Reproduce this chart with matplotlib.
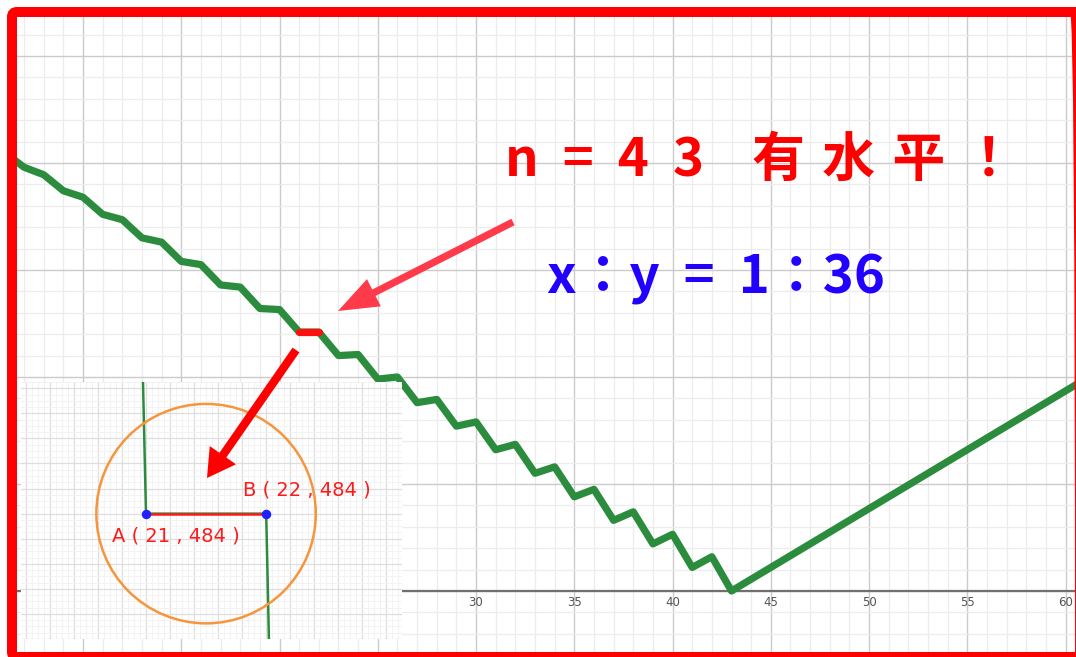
import matplotlib.pyplot as plt
from matplotlib.patches import FancyBboxPatch
from matplotlib.text import Annotation
from matplotlib.transforms import IdentityTransform
import numpy as np

plt.rcParams['font.family'] = ['Noto Sans CJK JP', 'DejaVu Sans']

# Значення (вершини ламаної в цілих n)
n_vals = list(range(6, 44)) + [61]
f_vals = [820, 792, 778, 748, 736, 704, 694, 660, 652, 616,
          610, 572, 568, 528, 526, 484, 484, 440, 442, 396,
          400, 352, 358, 308, 316, 264, 274, 220, 232, 176,
          190, 132, 148, 88, 106, 44, 64, 0, 396]
flat_n = [21, 22]          # горизонтальний відрізок A-B
flat_level = 484
x_tick_labels = [10, 15, 20, 25, 30, 35, 40, 45, 50, 55, 60]
title_text = "n  =  4  3    有\u2004水\u2004平\u2004！"
ratio_text = "x：y  =  1：36"

W, H = 1076, 657
GREEN = '#2b8c3d'


def px_rect(x, y, w, h):
    # прямокутник у пікселях картинки (початок зверху зліва)
    return [x / W, 1 - (y + h) / H, w / W, h / H]


fig = plt.figure(figsize=(W / 100, H / 100), dpi=100)
fig.patch.set_facecolor('white')

# --- основний графік ---
ax = fig.add_axes(px_rect(10, 10, 1066, 647))
ax.set_xticks(range(5, 65, 5))
ax.set_xticks([v for v in range(6, 61) if v % 5], minor=True)
ax.set_yticks(range(0, 1201, 200))
ax.set_yticks([v for v in range(-120, 1100, 40) if v % 200], minor=True)
# межі ставимо після тиків, інакше set_xticks їх розширює
ax.set_xlim(6.285, 60.53)
ax.set_ylim(-123.4, 1085.9)
ax.grid(which='major', color='#cbcbcb', lw=1.0)
ax.grid(which='minor', color='#ececec', lw=0.9)
ax.tick_params(which='both', length=0, labelbottom=False, labelleft=False)
for s in ax.spines.values():
    s.set_visible(False)
ax.axhline(0, color='#707070', lw=1.6, zorder=2)

for t in x_tick_labels:
    ax.annotate(str(t), (t, 0), xytext=(0, -8), textcoords='offset points',
                ha='center', va='center', fontsize=8.5, color='#555555',
                family='DejaVu Sans')

ax.plot(n_vals, f_vals, color=GREEN, lw=5.2,
        solid_joinstyle='round', solid_capstyle='round', zorder=3)
i = n_vals.index(flat_n[0])
ax.plot(n_vals[i:i + 2], f_vals[i:i + 2], color='#ff1010', lw=5.2,
        solid_capstyle='round', zorder=4)

# --- збільшений фрагмент ---
ax_in = fig.add_axes(px_rect(21, 382, 381, 257))
ax_in.set_zorder(2)
ax_in.set_facecolor('white')
ax_in.set_xticks(np.arange(20, 23.2, 0.2))
ax_in.set_xticks(np.arange(19.95, 23.15, 0.05), minor=True)
ax_in.set_yticks(np.arange(483.0, 485.1, 0.2))
ax_in.set_yticks(np.arange(483.0, 485.1, 0.05), minor=True)
ax_in.set_xlim(19.96, 23.13)
ax_in.set_ylim(483.0, 485.05)
ax_in.grid(which='minor', color='#f2f2f2', lw=0.7)
ax_in.grid(which='major', color='#dedede', lw=0.9)
ax_in.tick_params(which='both', length=0, labelbottom=False, labelleft=False)
for s in ax_in.spines.values():
    s.set_visible(False)

ax_in.plot(n_vals, f_vals, color=GREEN, lw=1.8, zorder=3)
ax_in.plot(flat_n, [flat_level, flat_level], color='#ff1a1a', lw=1.8, zorder=4)
ax_in.scatter(flat_n, [flat_level, flat_level], s=34, color='#2020ff', zorder=5)
ax_in.scatter([sum(flat_n) / 2], [flat_level], s=158 ** 2, marker='o',
              facecolors='none', edgecolors='#f7953d', linewidths=1.8, zorder=4)

ax_in.annotate(f"A ( {flat_n[0]} , {flat_level} )", (flat_n[0], flat_level),
               xytext=(21.5, -16), textcoords='offset points', ha='center',
               va='center', fontsize=14, color='#ff1a1a', family='DejaVu Sans')
ax_in.annotate(f"B ( {flat_n[1]} , {flat_level} )", (flat_n[1], flat_level),
               xytext=(29, 17), textcoords='offset points', ha='center',
               va='center', fontsize=14, color='#ff1a1a', family='DejaVu Sans')

# --- підписи ---
fig.text(505 / W, 1 - 160 / H, title_text, color='#ff0000', fontsize=38,
         fontweight='bold', ha='left', va='center')
fig.text(547 / W, 1 - 279 / H, ratio_text, color='#2200ff', fontsize=38,
         fontweight='bold', ha='left', va='center')

# --- стрілки ---
arr1 = Annotation('', xy=(338, H - 311), xycoords='figure pixels',
                  xytext=(513, H - 222), textcoords='figure pixels',
                  arrowprops=dict(arrowstyle='simple,head_length=1.45,head_width=1.1,tail_width=0.26',
                                  mutation_scale=20, color='#ff3b4b',
                                  shrinkA=0, shrinkB=0, lw=0))
arr2 = Annotation('', xy=(207, H - 478), xycoords='figure pixels',
                  xytext=(296, H - 350), textcoords='figure pixels',
                  arrowprops=dict(arrowstyle='simple,head_length=1.0,head_width=1.15,tail_width=0.3',
                                  mutation_scale=20, color='#ff0000',
                                  shrinkA=0, shrinkB=0, lw=0))
arr1.set_zorder(8)
arr2.set_zorder(8)
fig.add_artist(arr1)
fig.add_artist(arr2)

# --- червона рамка (права й нижня сторони майже за краєм) ---
border = FancyBboxPatch((12, 0), 1068, 645, boxstyle='round,pad=0,rounding_size=5',
                        transform=IdentityTransform(), fill=False,
                        ec='#ff0000', lw=7.2, zorder=10)
fig.add_artist(border)

fig.savefig('out.png', dpi=100, facecolor='white')
